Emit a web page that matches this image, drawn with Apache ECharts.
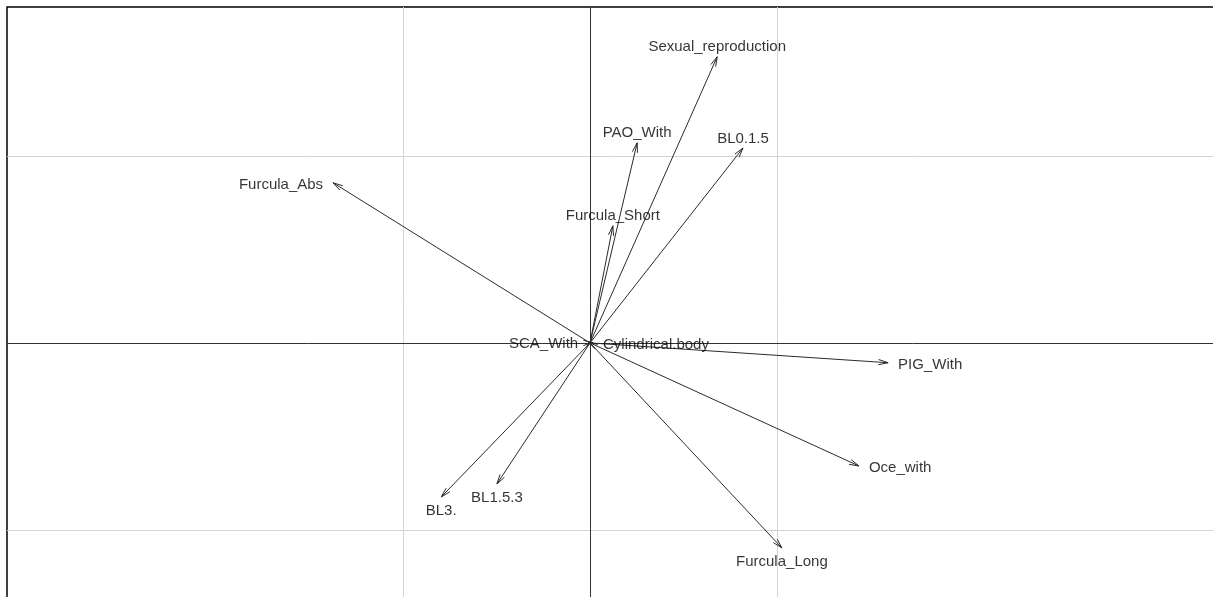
<!DOCTYPE html>
<html>
<head>
<meta charset="utf-8">
<style>
  html, body { margin: 0; padding: 0; background: #ffffff; }
  #chart { width: 1213px; height: 597px; }
</style>
<script src="https://cdn.jsdelivr.net/npm/echarts@6/dist/echarts.min.js"></script>
</head>
<body>
<div id="chart"></div>
<script>
// Variable loadings (arrow tips) on the first two axes
const variables = ['Sexual_reproduction', 'PAO_With', 'BL0.1.5', 'Furcula_Short', 'Furcula_Abs',
  'SCA_With', 'Cylindrical.body', 'PIG_With', 'Oce_with', 'Furcula_Long', 'BL3.', 'BL1.5.3'];
const axis1 = [0.340, 0.126, 0.409, 0.061, -0.687, -0.005, 0.008, 0.797, 0.719, 0.513, -0.398, -0.249];
const axis2 = [0.765, 0.535, 0.521, 0.313, 0.428, 0.003, 0.000, -0.053, -0.329, -0.548, -0.412, -0.377];

// Reference grid positions and visible window
const gridX = [-0.5, 0.5];
const gridY = [-0.5, 0.5];
const xRange = [-1.559, 1.6925];
const yRange = [-0.706, 0.898];

const arrowData = variables.map((n, i) => [axis1[i], axis2[i], n]);

// Label sits beyond the tip, on the side of the dominant direction
const labelData = variables.map((n, i) => {
  const x = axis1[i], y = axis2[i];
  let label;
  if (Math.abs(x) > Math.abs(y)) {
    label = { position: x < 0 ? 'left' : 'right', distance: 10, offset: [0, 2] };
  } else if (y < 0) {
    label = { position: 'bottom', distance: 6 };
  } else {
    label = { position: 'top', distance: 2 };
  }
  return { value: [x, y], name: n, label: label };
});

const chart = echarts.init(document.getElementById('chart'), null, { renderer: 'canvas' });

const headLen = 10;
const headAng = 15 * Math.PI / 180;

chart.setOption({
  animation: false,
  backgroundColor: '#ffffff',
  grid: {
    left: 7, top: 7, width: 1216, height: 600,
    outerBoundsMode: 'none', containLabel: false,
    show: true, borderColor: '#000000', borderWidth: 1.5, backgroundColor: 'transparent'
  },
  xAxis: {
    type: 'value', min: xRange[0], max: xRange[1],
    axisLine: { show: false }, axisTick: { show: false },
    axisLabel: { show: false }, splitLine: { show: false }
  },
  yAxis: {
    type: 'value', min: yRange[0], max: yRange[1],
    axisLine: { show: false }, axisTick: { show: false },
    axisLabel: { show: false }, splitLine: { show: false }
  },
  series: [
    {
      // light reference grid
      type: 'scatter', data: [], silent: true, z: 1,
      markLine: {
        silent: true, symbol: ['none', 'none'], label: { show: false },
        lineStyle: { color: '#d4d4d4', width: 1, type: 'solid' },
        data: gridX.map(v => ({ xAxis: v })).concat(gridY.map(v => ({ yAxis: v })))
      }
    },
    {
      // axes through the origin
      type: 'scatter', data: [], silent: true, z: 2,
      markLine: {
        silent: true, symbol: ['none', 'none'], label: { show: false },
        lineStyle: { color: '#333333', width: 1, type: 'solid' },
        data: [{ xAxis: 0 }, { yAxis: 0 }]
      }
    },
    {
      type: 'custom', z: 5, silent: true,
      data: arrowData,
      renderItem: function (params, api) {
        const o = api.coord([0, 0]);
        const t = api.coord([api.value(0), api.value(1)]);
        const ang = Math.atan2(t[1] - o[1], t[0] - o[0]);
        const p1 = [t[0] - headLen * Math.cos(ang - headAng), t[1] - headLen * Math.sin(ang - headAng)];
        const p2 = [t[0] - headLen * Math.cos(ang + headAng), t[1] - headLen * Math.sin(ang + headAng)];
        return {
          type: 'group',
          children: [
            { type: 'line', shape: { x1: o[0], y1: o[1], x2: t[0], y2: t[1] },
              style: { stroke: '#2b2b2b', lineWidth: 1 } },
            { type: 'polyline', shape: { points: [p1, t, p2] },
              style: { stroke: '#2b2b2b', fill: null, lineWidth: 1 } }
          ]
        };
      }
    },
    {
      type: 'scatter', z: 6, silent: true,
      symbolSize: 0,
      data: labelData,
      label: {
        show: true,
        formatter: p => p.name,
        color: '#000000',
        fontFamily: '"Liberation Sans", Arial, sans-serif',
        fontSize: 15
      }
    }
  ]
});
</script>
</body>
</html>
